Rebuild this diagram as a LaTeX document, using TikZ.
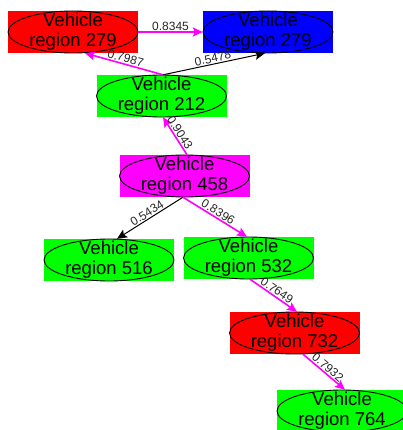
\documentclass[tikz,border=0pt]{standalone}
\usepackage{fontspec}
\setmainfont{Liberation Sans}
\usetikzlibrary{arrows.meta}
\definecolor{vred}{HTML}{FF0000}
\definecolor{vblue}{HTML}{0000FF}
\definecolor{vgreen}{HTML}{00FF00}
\definecolor{vmag}{HTML}{FF00FF}
\tikzset{
  vbox/.style={rectangle, minimum width=130pt, minimum height=42pt, inner sep=0pt,
    align=center, font=\fontsize{18.5}{20}\selectfont, text=black},
  vell/.style={draw=black, line width=0.9pt},
  pedge/.style={draw=vmag, line width=1.6pt, -{Stealth[length=10pt,width=9pt,inset=2pt]}},
  bedge/.style={draw=black, line width=1pt, -{Stealth[length=10pt,width=9pt,inset=2pt]}},
  elab/.style={font=\fontsize{12}{12}\selectfont, text=black!85, inner sep=1pt, sloped, above, pos=0.5}
}
\begin{document}
\begin{tikzpicture}[x=1pt,y=-1pt]
\useasboundingbox (0,0) rectangle (403,430);
\node[vbox, fill=vred]   (A) at (73,32)   {Vehicle\\region 279};
\node[vbox, fill=vblue]  (B) at (268,32)  {Vehicle\\region 279};
\node[vbox, fill=vgreen] (C) at (161.5,96) {Vehicle\\region 212};
\node[vbox, fill=vmag]   (D) at (184.5,176) {Vehicle\\region 458};
\node[vbox, fill=vgreen] (E) at (109,260) {Vehicle\\region 516};
\node[vbox, fill=vgreen] (F) at (248.5,258) {Vehicle\\region 532};
\node[vbox, fill=vred]   (G) at (294.5,333) {Vehicle\\region 732};
\node[vbox, fill=vgreen] (H) at (342,411) {Vehicle\\region 764};
\foreach \n in {A,B,C,D,E,F,G,H}{
  \draw[vell] (\n.center) ellipse (65pt and 21pt);
}
\draw[pedge] (A.east) -- node[elab] {0.8345} (B.west);
\draw[pedge] ([xshift=1.5pt]C.north) -- node[elab] {0.7987} ([xshift=12pt]A.south);
\draw[bedge] ([xshift=1.5pt]C.north) -- node[elab] {0.5478} ([xshift=-3pt]B.south);
\draw[pedge] ([xshift=2.5pt]D.north) -- node[elab] {0.9043} ([xshift=1.5pt]C.south);
\draw[bedge] ([xshift=-1.5pt]D.south) -- node[elab] {0.5434} ([xshift=8pt]E.north);
\draw[pedge] ([xshift=-1.5pt]D.south) -- node[elab] {0.8396} ([xshift=-1.5pt]F.north);
\draw[pedge] ([xshift=1.5pt]F.south) -- node[elab] {0.7649} ([xshift=2.5pt]G.north);
\draw[pedge] ([xshift=8.5pt]G.south) -- node[elab] {0.7932} ([xshift=3pt]H.north);
\end{tikzpicture}
\end{document}
